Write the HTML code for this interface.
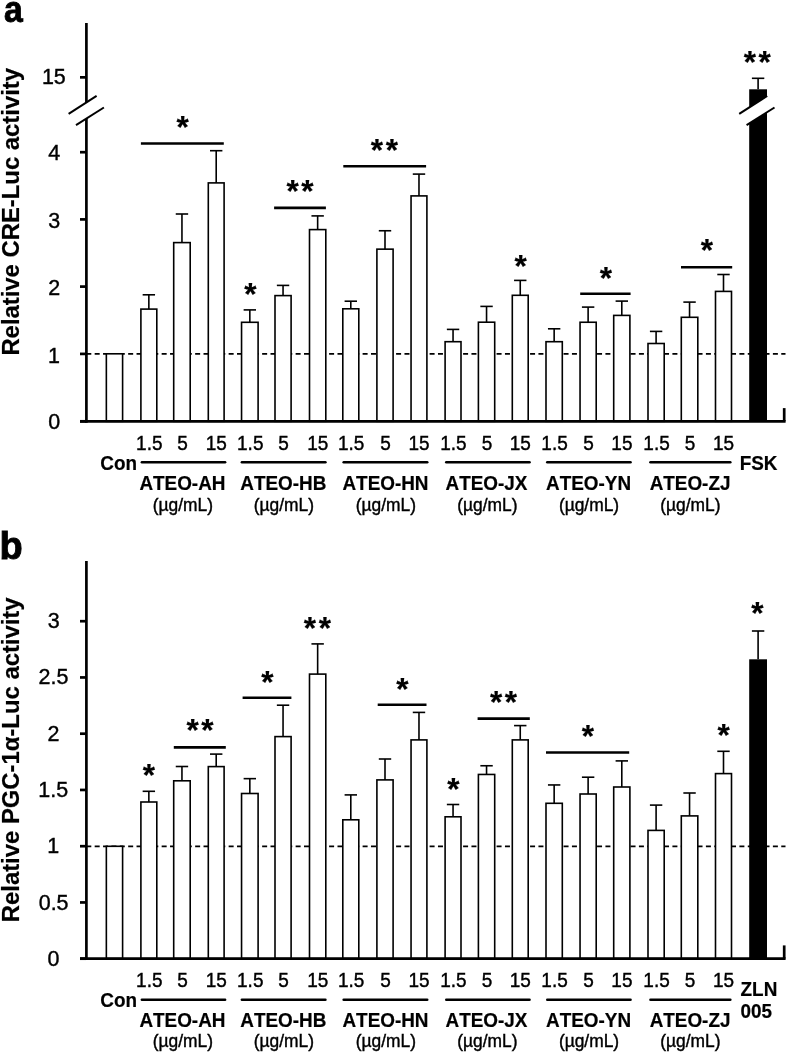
<!DOCTYPE html><html><head><meta charset="utf-8"><style>html,body{margin:0;padding:0;background:#fff;overflow:hidden}svg{display:block;will-change:transform;font-kerning:none}</style></head><body>
<svg width="787" height="1052" viewBox="0 0 787 1052" font-family='"Liberation Sans", sans-serif'>
<style>.r{stroke:#000;stroke-width:0.4}.b{stroke:#000;stroke-width:0.2}</style>
<rect x="0" y="0" width="787" height="1052" fill="#fff"/>
<g stroke="#000" fill="#000">
<line x1="86.3" y1="353.8" x2="785.5" y2="353.8" stroke-width="1.8" stroke-dasharray="5 3.373"/>
<rect x="106.35" y="353.8" width="16.25" height="67.5" fill="#fff" stroke-width="1.6"/>
<rect x="140.9" y="309.1" width="15.9" height="112.2" fill="#fff" stroke-width="1.6"/>
<line x1="148.85" y1="294.8" x2="148.85" y2="309.1" stroke-width="1.6" />
<line x1="142.65" y1="294.8" x2="155.05" y2="294.8" stroke-width="1.6" />
<rect x="173.7" y="242.6" width="16.5" height="178.7" fill="#fff" stroke-width="1.6"/>
<line x1="181.95" y1="214" x2="181.95" y2="242.6" stroke-width="1.6" />
<line x1="175.75" y1="214" x2="188.15" y2="214" stroke-width="1.6" />
<rect x="208.3" y="182.9" width="15.8" height="238.4" fill="#fff" stroke-width="1.6"/>
<line x1="216.2" y1="150.7" x2="216.2" y2="182.9" stroke-width="1.6" />
<line x1="210" y1="150.7" x2="222.4" y2="150.7" stroke-width="1.6" />
<rect x="241.55" y="322.3" width="16.55" height="99" fill="#fff" stroke-width="1.6"/>
<line x1="249.83" y1="309.9" x2="249.83" y2="322.3" stroke-width="1.6" />
<line x1="243.63" y1="309.9" x2="256.03" y2="309.9" stroke-width="1.6" />
<rect x="275" y="295.6" width="16.1" height="125.7" fill="#fff" stroke-width="1.6"/>
<line x1="283.05" y1="285.4" x2="283.05" y2="295.6" stroke-width="1.6" />
<line x1="276.85" y1="285.4" x2="289.25" y2="285.4" stroke-width="1.6" />
<rect x="309.5" y="229.6" width="16.3" height="191.7" fill="#fff" stroke-width="1.6"/>
<line x1="317.65" y1="215.9" x2="317.65" y2="229.6" stroke-width="1.6" />
<line x1="311.45" y1="215.9" x2="323.85" y2="215.9" stroke-width="1.6" />
<rect x="342.8" y="308.8" width="16" height="112.5" fill="#fff" stroke-width="1.6"/>
<line x1="350.8" y1="301.2" x2="350.8" y2="308.8" stroke-width="1.6" />
<line x1="344.6" y1="301.2" x2="357" y2="301.2" stroke-width="1.6" />
<rect x="376.9" y="249.15" width="16.2" height="172.15" fill="#fff" stroke-width="1.6"/>
<line x1="385" y1="230.75" x2="385" y2="249.15" stroke-width="1.6" />
<line x1="378.8" y1="230.75" x2="391.2" y2="230.75" stroke-width="1.6" />
<rect x="411.05" y="195.9" width="15.85" height="225.4" fill="#fff" stroke-width="1.6"/>
<line x1="418.98" y1="174.1" x2="418.98" y2="195.9" stroke-width="1.6" />
<line x1="412.78" y1="174.1" x2="425.18" y2="174.1" stroke-width="1.6" />
<rect x="445.1" y="341.7" width="15.9" height="79.6" fill="#fff" stroke-width="1.6"/>
<line x1="453.05" y1="329.4" x2="453.05" y2="341.7" stroke-width="1.6" />
<line x1="446.85" y1="329.4" x2="459.25" y2="329.4" stroke-width="1.6" />
<rect x="478.4" y="322.2" width="16.3" height="99.1" fill="#fff" stroke-width="1.6"/>
<line x1="486.55" y1="306.4" x2="486.55" y2="322.2" stroke-width="1.6" />
<line x1="480.35" y1="306.4" x2="492.75" y2="306.4" stroke-width="1.6" />
<rect x="512.3" y="295.3" width="15.9" height="126" fill="#fff" stroke-width="1.6"/>
<line x1="520.25" y1="280.4" x2="520.25" y2="295.3" stroke-width="1.6" />
<line x1="514.05" y1="280.4" x2="526.45" y2="280.4" stroke-width="1.6" />
<rect x="546" y="341.7" width="16.3" height="79.6" fill="#fff" stroke-width="1.6"/>
<line x1="554.15" y1="328.8" x2="554.15" y2="341.7" stroke-width="1.6" />
<line x1="547.95" y1="328.8" x2="560.35" y2="328.8" stroke-width="1.6" />
<rect x="580.05" y="322.25" width="16.15" height="99.05" fill="#fff" stroke-width="1.6"/>
<line x1="588.12" y1="307.1" x2="588.12" y2="322.25" stroke-width="1.6" />
<line x1="581.92" y1="307.1" x2="594.33" y2="307.1" stroke-width="1.6" />
<rect x="613.7" y="315.4" width="16.2" height="105.9" fill="#fff" stroke-width="1.6"/>
<line x1="621.8" y1="301.1" x2="621.8" y2="315.4" stroke-width="1.6" />
<line x1="615.6" y1="301.1" x2="628" y2="301.1" stroke-width="1.6" />
<rect x="648" y="343.5" width="16.2" height="77.8" fill="#fff" stroke-width="1.6"/>
<line x1="656.1" y1="331.4" x2="656.1" y2="343.5" stroke-width="1.6" />
<line x1="649.9" y1="331.4" x2="662.3" y2="331.4" stroke-width="1.6" />
<rect x="681.3" y="317.3" width="16.5" height="104" fill="#fff" stroke-width="1.6"/>
<line x1="689.55" y1="302.1" x2="689.55" y2="317.3" stroke-width="1.6" />
<line x1="683.35" y1="302.1" x2="695.75" y2="302.1" stroke-width="1.6" />
<rect x="715.5" y="291.4" width="16" height="129.9" fill="#fff" stroke-width="1.6"/>
<line x1="723.5" y1="274.5" x2="723.5" y2="291.4" stroke-width="1.6" />
<line x1="717.3" y1="274.5" x2="729.7" y2="274.5" stroke-width="1.6" />
<rect x="749.2" y="89.3" width="17.8" height="332" stroke="none"/>
<line x1="758.1" y1="78.3" x2="758.1" y2="89.3" stroke-width="1.6" />
<line x1="751.9" y1="78.3" x2="764.3" y2="78.3" stroke-width="1.6" />
<line x1="140.9" y1="143.5" x2="223.8" y2="143.5" stroke-width="2.6" />
<line x1="274.1" y1="207.9" x2="325.9" y2="207.9" stroke-width="2.6" />
<line x1="343.3" y1="166.3" x2="426.1" y2="166.3" stroke-width="2.6" />
<line x1="580.2" y1="293.8" x2="630.6" y2="293.8" stroke-width="2.6" />
<line x1="681" y1="267.3" x2="732.2" y2="267.3" stroke-width="2.6" />
<text stroke="none" class="b" x="176.44" y="137.86" font-size="31.5" font-weight="bold">*</text>
<text stroke="none" class="b" x="286.51" y="202.41" font-size="31.5" font-weight="bold" letter-spacing="2.6">**</text>
<text stroke="none" class="b" x="244.14" y="305.01" font-size="31.5" font-weight="bold">*</text>
<text stroke="none" class="b" x="370.81" y="161.21" font-size="31.5" font-weight="bold" letter-spacing="2.6">**</text>
<text stroke="none" class="b" x="514.59" y="276.61" font-size="31.5" font-weight="bold">*</text>
<text stroke="none" class="b" x="599.64" y="288.66" font-size="31.5" font-weight="bold">*</text>
<text stroke="none" class="b" x="700.69" y="261.41" font-size="31.5" font-weight="bold">*</text>
<text stroke="none" class="b" x="743.76" y="72.96" font-size="31.5" font-weight="bold" letter-spacing="2.6">**</text>
<line x1="86.4" y1="23" x2="86.4" y2="422.65" stroke-width="2.7" />
<line x1="80" y1="421.3" x2="785.6" y2="421.3" stroke-width="2.7" />
<line x1="784.2" y1="421.3" x2="784.2" y2="408.1" stroke-width="2.7" />
<line x1="80" y1="421.3" x2="86.4" y2="421.3" stroke-width="2.7" />
<text stroke="none" class="r" transform="translate(48.22,428.96) scale(1.0,1.035)" font-size="21.5" font-weight="normal">0</text>
<line x1="80" y1="353.9" x2="86.4" y2="353.9" stroke-width="2.7" />
<text stroke="none" class="r" transform="translate(47.93,362.55) scale(1.0,1.035)" font-size="21.5" font-weight="normal">1</text>
<line x1="80" y1="286.6" x2="86.4" y2="286.6" stroke-width="2.7" />
<text stroke="none" class="r" transform="translate(48.22,295.07) scale(1.0,1.035)" font-size="21.5" font-weight="normal">2</text>
<line x1="80" y1="219.4" x2="86.4" y2="219.4" stroke-width="2.7" />
<text stroke="none" class="r" transform="translate(48.28,227.66) scale(1.0,1.035)" font-size="21.5" font-weight="normal">3</text>
<line x1="80" y1="152.2" x2="86.4" y2="152.2" stroke-width="2.7" />
<text stroke="none" class="r" transform="translate(48.29,160.35) scale(1.0,1.035)" font-size="21.5" font-weight="normal">4</text>
<line x1="80" y1="77.35" x2="86.4" y2="77.35" stroke-width="2.7" />
<text stroke="none" class="r" transform="translate(41.88,83.85) scale(1.0,1.035)" font-size="21.5" font-weight="normal">15</text>
<text stroke="none" transform="translate(19,355.6) rotate(-90) scale(1,1.04)" class="b" font-size="23.85" font-weight="bold">Relative CRE-Luc activity</text>
<text stroke="none" class="r" transform="translate(136.07,449.53) scale(1.0,1.045)" font-size="19.0" font-weight="normal">1.5</text>
<text stroke="none" class="r" transform="translate(177.14,449.53) scale(1.0,1.045)" font-size="19.0" font-weight="normal">5</text>
<text stroke="none" class="r" transform="translate(205.76,449.53) scale(1.0,1.045)" font-size="19.0" font-weight="normal">15</text>
<text stroke="none" class="r" transform="translate(237.04,449.53) scale(1.0,1.045)" font-size="19.0" font-weight="normal">1.5</text>
<text stroke="none" class="r" transform="translate(278.24,449.53) scale(1.0,1.045)" font-size="19.0" font-weight="normal">5</text>
<text stroke="none" class="r" transform="translate(307.21,449.53) scale(1.0,1.045)" font-size="19.0" font-weight="normal">15</text>
<text stroke="none" class="r" transform="translate(338.02,449.53) scale(1.0,1.045)" font-size="19.0" font-weight="normal">1.5</text>
<text stroke="none" class="r" transform="translate(380.19,449.53) scale(1.0,1.045)" font-size="19.0" font-weight="normal">5</text>
<text stroke="none" class="r" transform="translate(408.53,449.53) scale(1.0,1.045)" font-size="19.0" font-weight="normal">15</text>
<text stroke="none" class="r" transform="translate(440.27,449.53) scale(1.0,1.045)" font-size="19.0" font-weight="normal">1.5</text>
<text stroke="none" class="r" transform="translate(481.74,449.53) scale(1.0,1.045)" font-size="19.0" font-weight="normal">5</text>
<text stroke="none" class="r" transform="translate(509.81,449.53) scale(1.0,1.045)" font-size="19.0" font-weight="normal">15</text>
<text stroke="none" class="r" transform="translate(541.37,449.53) scale(1.0,1.045)" font-size="19.0" font-weight="normal">1.5</text>
<text stroke="none" class="r" transform="translate(583.31,449.53) scale(1.0,1.045)" font-size="19.0" font-weight="normal">5</text>
<text stroke="none" class="r" transform="translate(611.36,449.53) scale(1.0,1.045)" font-size="19.0" font-weight="normal">15</text>
<text stroke="none" class="r" transform="translate(643.32,449.53) scale(1.0,1.045)" font-size="19.0" font-weight="normal">1.5</text>
<text stroke="none" class="r" transform="translate(684.74,449.53) scale(1.0,1.045)" font-size="19.0" font-weight="normal">5</text>
<text stroke="none" class="r" transform="translate(713.06,449.53) scale(1.0,1.045)" font-size="19.0" font-weight="normal">15</text>
<line x1="141.9" y1="462.2" x2="225.1" y2="462.2" stroke-width="2.6" stroke-linecap="round"/>
<text stroke="none" class="b" transform="translate(139.41,490.33) scale(1.0,1.05)" font-size="18.9" font-weight="bold">ATEO-AH</text>
<text stroke="none" class="r" transform="translate(152.7,511.23) scale(1.0,1.03)" font-size="17.4" font-weight="normal">(µg/mL)</text>
<line x1="241.9" y1="462.2" x2="325.4" y2="462.2" stroke-width="2.6" stroke-linecap="round"/>
<text stroke="none" class="b" transform="translate(240.3,490.33) scale(1.0,1.05)" font-size="18.9" font-weight="bold">ATEO-HB</text>
<text stroke="none" class="r" transform="translate(253.8,511.23) scale(1.0,1.03)" font-size="17.4" font-weight="normal">(µg/mL)</text>
<line x1="343.7" y1="462.2" x2="427.2" y2="462.2" stroke-width="2.6" stroke-linecap="round"/>
<text stroke="none" class="b" transform="translate(342.46,490.33) scale(1.0,1.05)" font-size="18.9" font-weight="bold">ATEO-HN</text>
<text stroke="none" class="r" transform="translate(355.75,511.23) scale(1.0,1.03)" font-size="17.4" font-weight="normal">(µg/mL)</text>
<line x1="446.3" y1="462.2" x2="529.5" y2="462.2" stroke-width="2.6" stroke-linecap="round"/>
<text stroke="none" class="b" transform="translate(445.54,490.33) scale(1.0,1.05)" font-size="18.9" font-weight="bold">ATEO-JX</text>
<text stroke="none" class="r" transform="translate(457.3,511.23) scale(1.0,1.03)" font-size="17.4" font-weight="normal">(µg/mL)</text>
<line x1="547.3" y1="462.2" x2="630.5" y2="462.2" stroke-width="2.6" stroke-linecap="round"/>
<text stroke="none" class="b" transform="translate(546.1,490.33) scale(1.0,1.05)" font-size="18.9" font-weight="bold">ATEO-YN</text>
<text stroke="none" class="r" transform="translate(558.88,511.23) scale(1.0,1.03)" font-size="17.4" font-weight="normal">(µg/mL)</text>
<line x1="650.5" y1="462.2" x2="730.3" y2="462.2" stroke-width="2.6" stroke-linecap="round"/>
<text stroke="none" class="b" transform="translate(649.64,490.33) scale(1.0,1.05)" font-size="18.9" font-weight="bold">ATEO-ZJ</text>
<text stroke="none" class="r" transform="translate(660.3,511.23) scale(1.0,1.03)" font-size="17.4" font-weight="normal">(µg/mL)</text>
<text stroke="none" class="b" transform="translate(100.28,469.73) scale(1.0,1.05)" font-size="18.9" font-weight="bold">Con</text>
<line x1="86.3" y1="846.4" x2="785.5" y2="846.4" stroke-width="1.8" stroke-dasharray="5 3.373"/>
<rect x="106.35" y="846.3" width="16.25" height="112.3" fill="#fff" stroke-width="1.6"/>
<rect x="140.9" y="802" width="15.9" height="156.6" fill="#fff" stroke-width="1.6"/>
<line x1="148.85" y1="791.3" x2="148.85" y2="802" stroke-width="1.6" />
<line x1="142.65" y1="791.3" x2="155.05" y2="791.3" stroke-width="1.6" />
<rect x="173.7" y="780.8" width="16.5" height="177.8" fill="#fff" stroke-width="1.6"/>
<line x1="181.95" y1="766.5" x2="181.95" y2="780.8" stroke-width="1.6" />
<line x1="175.75" y1="766.5" x2="188.15" y2="766.5" stroke-width="1.6" />
<rect x="208.3" y="766.6" width="15.8" height="192" fill="#fff" stroke-width="1.6"/>
<line x1="216.2" y1="754.1" x2="216.2" y2="766.6" stroke-width="1.6" />
<line x1="210" y1="754.1" x2="222.4" y2="754.1" stroke-width="1.6" />
<rect x="241.55" y="793.5" width="16.55" height="165.1" fill="#fff" stroke-width="1.6"/>
<line x1="249.83" y1="778.65" x2="249.83" y2="793.5" stroke-width="1.6" />
<line x1="243.63" y1="778.65" x2="256.03" y2="778.65" stroke-width="1.6" />
<rect x="275" y="736.6" width="16.1" height="222" fill="#fff" stroke-width="1.6"/>
<line x1="283.05" y1="705.2" x2="283.05" y2="736.6" stroke-width="1.6" />
<line x1="276.85" y1="705.2" x2="289.25" y2="705.2" stroke-width="1.6" />
<rect x="309.5" y="674.1" width="16.3" height="284.5" fill="#fff" stroke-width="1.6"/>
<line x1="317.65" y1="643.9" x2="317.65" y2="674.1" stroke-width="1.6" />
<line x1="311.45" y1="643.9" x2="323.85" y2="643.9" stroke-width="1.6" />
<rect x="342.8" y="819.8" width="16" height="138.8" fill="#fff" stroke-width="1.6"/>
<line x1="350.8" y1="794.9" x2="350.8" y2="819.8" stroke-width="1.6" />
<line x1="344.6" y1="794.9" x2="357" y2="794.9" stroke-width="1.6" />
<rect x="376.9" y="779.9" width="16.2" height="178.7" fill="#fff" stroke-width="1.6"/>
<line x1="385" y1="759" x2="385" y2="779.9" stroke-width="1.6" />
<line x1="378.8" y1="759" x2="391.2" y2="759" stroke-width="1.6" />
<rect x="411.05" y="739.9" width="15.85" height="218.7" fill="#fff" stroke-width="1.6"/>
<line x1="418.98" y1="712.4" x2="418.98" y2="739.9" stroke-width="1.6" />
<line x1="412.78" y1="712.4" x2="425.18" y2="712.4" stroke-width="1.6" />
<rect x="445.1" y="816.8" width="15.9" height="141.8" fill="#fff" stroke-width="1.6"/>
<line x1="453.05" y1="804.5" x2="453.05" y2="816.8" stroke-width="1.6" />
<line x1="446.85" y1="804.5" x2="459.25" y2="804.5" stroke-width="1.6" />
<rect x="478.4" y="774.45" width="16.3" height="184.15" fill="#fff" stroke-width="1.6"/>
<line x1="486.55" y1="765.75" x2="486.55" y2="774.45" stroke-width="1.6" />
<line x1="480.35" y1="765.75" x2="492.75" y2="765.75" stroke-width="1.6" />
<rect x="512.3" y="739.9" width="15.9" height="218.7" fill="#fff" stroke-width="1.6"/>
<line x1="520.25" y1="725.6" x2="520.25" y2="739.9" stroke-width="1.6" />
<line x1="514.05" y1="725.6" x2="526.45" y2="725.6" stroke-width="1.6" />
<rect x="546" y="803.3" width="16.3" height="155.3" fill="#fff" stroke-width="1.6"/>
<line x1="554.15" y1="784.95" x2="554.15" y2="803.3" stroke-width="1.6" />
<line x1="547.95" y1="784.95" x2="560.35" y2="784.95" stroke-width="1.6" />
<rect x="580.05" y="794" width="16.15" height="164.6" fill="#fff" stroke-width="1.6"/>
<line x1="588.12" y1="777.2" x2="588.12" y2="794" stroke-width="1.6" />
<line x1="581.92" y1="777.2" x2="594.33" y2="777.2" stroke-width="1.6" />
<rect x="613.7" y="787" width="16.2" height="171.6" fill="#fff" stroke-width="1.6"/>
<line x1="621.8" y1="760.9" x2="621.8" y2="787" stroke-width="1.6" />
<line x1="615.6" y1="760.9" x2="628" y2="760.9" stroke-width="1.6" />
<rect x="648" y="830.4" width="16.2" height="128.2" fill="#fff" stroke-width="1.6"/>
<line x1="656.1" y1="805.1" x2="656.1" y2="830.4" stroke-width="1.6" />
<line x1="649.9" y1="805.1" x2="662.3" y2="805.1" stroke-width="1.6" />
<rect x="681.3" y="815.9" width="16.5" height="142.7" fill="#fff" stroke-width="1.6"/>
<line x1="689.55" y1="793" x2="689.55" y2="815.9" stroke-width="1.6" />
<line x1="683.35" y1="793" x2="695.75" y2="793" stroke-width="1.6" />
<rect x="715.5" y="773.6" width="16" height="185" fill="#fff" stroke-width="1.6"/>
<line x1="723.5" y1="751.3" x2="723.5" y2="773.6" stroke-width="1.6" />
<line x1="717.3" y1="751.3" x2="729.7" y2="751.3" stroke-width="1.6" />
<rect x="749.2" y="659.3" width="17.8" height="299.3" stroke="none"/>
<line x1="758.1" y1="631" x2="758.1" y2="659.3" stroke-width="1.6" />
<line x1="751.9" y1="631" x2="764.3" y2="631" stroke-width="1.6" />
<line x1="173.8" y1="747.4" x2="225.8" y2="747.4" stroke-width="2.6" />
<line x1="242.6" y1="697.8" x2="291.4" y2="697.8" stroke-width="2.6" />
<line x1="377.7" y1="704.8" x2="426.5" y2="704.8" stroke-width="2.6" />
<line x1="477.6" y1="718.6" x2="529.8" y2="718.6" stroke-width="2.6" />
<line x1="546" y1="752.5" x2="629.2" y2="752.5" stroke-width="2.6" />
<text stroke="none" class="b" x="142.84" y="786.41" font-size="31.5" font-weight="bold">*</text>
<text stroke="none" class="b" x="186.51" y="741.46" font-size="31.5" font-weight="bold" letter-spacing="2.6">**</text>
<text stroke="none" class="b" x="261.24" y="692.51" font-size="31.5" font-weight="bold">*</text>
<text stroke="none" class="b" x="303.81" y="638.91" font-size="31.5" font-weight="bold" letter-spacing="2.6">**</text>
<text stroke="none" class="b" x="396.14" y="699.61" font-size="31.5" font-weight="bold">*</text>
<text stroke="none" class="b" x="447.14" y="799.91" font-size="31.5" font-weight="bold">*</text>
<text stroke="none" class="b" x="489.91" y="713.21" font-size="31.5" font-weight="bold" letter-spacing="2.6">**</text>
<text stroke="none" class="b" x="581.84" y="747.11" font-size="31.5" font-weight="bold">*</text>
<text stroke="none" class="b" x="717.59" y="746.01" font-size="31.5" font-weight="bold">*</text>
<text stroke="none" class="b" x="751.14" y="624.21" font-size="31.5" font-weight="bold">*</text>
<line x1="86.4" y1="561" x2="86.4" y2="959.95" stroke-width="2.7" />
<line x1="80" y1="958.6" x2="785.6" y2="958.6" stroke-width="2.7" />
<line x1="784.2" y1="958.6" x2="784.2" y2="945.4" stroke-width="2.7" />
<line x1="80" y1="958.7" x2="86.4" y2="958.7" stroke-width="2.7" />
<text stroke="none" class="r" transform="translate(47.62,966.16) scale(1.0,1.035)" font-size="21.5" font-weight="normal">0</text>
<line x1="80" y1="902.45" x2="86.4" y2="902.45" stroke-width="2.7" />
<text stroke="none" class="r" transform="translate(38.69,909.91) scale(1.0,1.035)" font-size="21.5" font-weight="normal">0.5</text>
<line x1="80" y1="846.2" x2="86.4" y2="846.2" stroke-width="2.7" />
<text stroke="none" class="r" transform="translate(47.33,852.85) scale(1.0,1.035)" font-size="21.5" font-weight="normal">1</text>
<line x1="80" y1="789.95" x2="86.4" y2="789.95" stroke-width="2.7" />
<text stroke="none" class="r" transform="translate(38.29,796.85) scale(1.0,1.035)" font-size="21.5" font-weight="normal">1.5</text>
<line x1="80" y1="733.7" x2="86.4" y2="733.7" stroke-width="2.7" />
<text stroke="none" class="r" transform="translate(47.62,740.77) scale(1.0,1.035)" font-size="21.5" font-weight="normal">2</text>
<line x1="80" y1="677.45" x2="86.4" y2="677.45" stroke-width="2.7" />
<text stroke="none" class="r" transform="translate(38.57,683.66) scale(1.0,1.035)" font-size="21.5" font-weight="normal">2.5</text>
<line x1="80" y1="621.2" x2="86.4" y2="621.2" stroke-width="2.7" />
<text stroke="none" class="r" transform="translate(47.68,628.36) scale(1.0,1.035)" font-size="21.5" font-weight="normal">3</text>
<text stroke="none" transform="translate(19,922.2) rotate(-90) scale(1,1.04)" class="b" font-size="23.85" font-weight="bold">Relative PGC-1α-Luc activity</text>
<text stroke="none" class="r" transform="translate(136.07,987.13) scale(1.0,1.045)" font-size="19.0" font-weight="normal">1.5</text>
<text stroke="none" class="r" transform="translate(177.14,987.13) scale(1.0,1.045)" font-size="19.0" font-weight="normal">5</text>
<text stroke="none" class="r" transform="translate(205.76,987.13) scale(1.0,1.045)" font-size="19.0" font-weight="normal">15</text>
<text stroke="none" class="r" transform="translate(237.04,987.13) scale(1.0,1.045)" font-size="19.0" font-weight="normal">1.5</text>
<text stroke="none" class="r" transform="translate(278.24,987.13) scale(1.0,1.045)" font-size="19.0" font-weight="normal">5</text>
<text stroke="none" class="r" transform="translate(307.21,987.13) scale(1.0,1.045)" font-size="19.0" font-weight="normal">15</text>
<text stroke="none" class="r" transform="translate(338.02,987.13) scale(1.0,1.045)" font-size="19.0" font-weight="normal">1.5</text>
<text stroke="none" class="r" transform="translate(380.19,987.13) scale(1.0,1.045)" font-size="19.0" font-weight="normal">5</text>
<text stroke="none" class="r" transform="translate(408.53,987.13) scale(1.0,1.045)" font-size="19.0" font-weight="normal">15</text>
<text stroke="none" class="r" transform="translate(440.27,987.13) scale(1.0,1.045)" font-size="19.0" font-weight="normal">1.5</text>
<text stroke="none" class="r" transform="translate(481.74,987.13) scale(1.0,1.045)" font-size="19.0" font-weight="normal">5</text>
<text stroke="none" class="r" transform="translate(509.81,987.13) scale(1.0,1.045)" font-size="19.0" font-weight="normal">15</text>
<text stroke="none" class="r" transform="translate(541.37,987.13) scale(1.0,1.045)" font-size="19.0" font-weight="normal">1.5</text>
<text stroke="none" class="r" transform="translate(583.31,987.13) scale(1.0,1.045)" font-size="19.0" font-weight="normal">5</text>
<text stroke="none" class="r" transform="translate(611.36,987.13) scale(1.0,1.045)" font-size="19.0" font-weight="normal">15</text>
<text stroke="none" class="r" transform="translate(643.32,987.13) scale(1.0,1.045)" font-size="19.0" font-weight="normal">1.5</text>
<text stroke="none" class="r" transform="translate(684.74,987.13) scale(1.0,1.045)" font-size="19.0" font-weight="normal">5</text>
<text stroke="none" class="r" transform="translate(713.06,987.13) scale(1.0,1.045)" font-size="19.0" font-weight="normal">15</text>
<line x1="141.9" y1="999.7" x2="225.1" y2="999.7" stroke-width="2.6" stroke-linecap="round"/>
<text stroke="none" class="b" transform="translate(139.41,1026.63) scale(1.0,1.05)" font-size="18.9" font-weight="bold">ATEO-AH</text>
<text stroke="none" class="r" transform="translate(152.7,1047.43) scale(1.0,1.03)" font-size="17.4" font-weight="normal">(µg/mL)</text>
<line x1="241.9" y1="999.7" x2="325.4" y2="999.7" stroke-width="2.6" stroke-linecap="round"/>
<text stroke="none" class="b" transform="translate(240.3,1026.63) scale(1.0,1.05)" font-size="18.9" font-weight="bold">ATEO-HB</text>
<text stroke="none" class="r" transform="translate(253.8,1047.43) scale(1.0,1.03)" font-size="17.4" font-weight="normal">(µg/mL)</text>
<line x1="343.7" y1="999.7" x2="427.2" y2="999.7" stroke-width="2.6" stroke-linecap="round"/>
<text stroke="none" class="b" transform="translate(342.46,1026.63) scale(1.0,1.05)" font-size="18.9" font-weight="bold">ATEO-HN</text>
<text stroke="none" class="r" transform="translate(355.75,1047.43) scale(1.0,1.03)" font-size="17.4" font-weight="normal">(µg/mL)</text>
<line x1="446.3" y1="999.7" x2="529.5" y2="999.7" stroke-width="2.6" stroke-linecap="round"/>
<text stroke="none" class="b" transform="translate(445.54,1026.63) scale(1.0,1.05)" font-size="18.9" font-weight="bold">ATEO-JX</text>
<text stroke="none" class="r" transform="translate(457.3,1047.43) scale(1.0,1.03)" font-size="17.4" font-weight="normal">(µg/mL)</text>
<line x1="547.3" y1="999.7" x2="630.5" y2="999.7" stroke-width="2.6" stroke-linecap="round"/>
<text stroke="none" class="b" transform="translate(546.1,1026.63) scale(1.0,1.05)" font-size="18.9" font-weight="bold">ATEO-YN</text>
<text stroke="none" class="r" transform="translate(558.88,1047.43) scale(1.0,1.03)" font-size="17.4" font-weight="normal">(µg/mL)</text>
<line x1="650.5" y1="999.7" x2="730.3" y2="999.7" stroke-width="2.6" stroke-linecap="round"/>
<text stroke="none" class="b" transform="translate(649.64,1026.63) scale(1.0,1.05)" font-size="18.9" font-weight="bold">ATEO-ZJ</text>
<text stroke="none" class="r" transform="translate(660.3,1047.43) scale(1.0,1.03)" font-size="17.4" font-weight="normal">(µg/mL)</text>
<text stroke="none" class="b" transform="translate(100.28,1007.33) scale(1.0,1.05)" font-size="18.9" font-weight="bold">Con</text>
</g>
<g stroke="#000" fill="#000">
<polygon points="68.6,113.9 96.6,95.9 103.9,107.5 76,125.2" fill="#fff" stroke="none"/>
<line x1="68.6" y1="113.9" x2="96.6" y2="95.9" stroke-width="2.0" />
<line x1="76" y1="125.2" x2="103.9" y2="107.5" stroke-width="2.0" />
<polygon points="739.2,113.9 767.2,95.9 774.5,107.5 746.6,125.2" fill="#fff" stroke="none"/>
<line x1="739.2" y1="113.9" x2="767.2" y2="95.9" stroke-width="2.0" />
<line x1="746.6" y1="125.2" x2="774.5" y2="107.5" stroke-width="2.0" />
<text stroke="none" class="b" transform="translate(739.66,469.98) scale(1.0,1.05)" font-size="18.9" font-weight="bold">FSK</text>
<text stroke="none" class="b" transform="translate(740.59,995.53) scale(1.0,1.05)" font-size="18.9" font-weight="bold">ZLN</text>
<text stroke="none" class="b" transform="translate(740.57,1018.13) scale(1.0,1.05)" font-size="18.9" font-weight="bold">005</text>
<text stroke="none" transform="translate(3.9,21.5) scale(0.9,1)" font-size="37.5" font-weight="bold" style="stroke:#000;stroke-width:0.9px">a</text>
<text stroke="none" x="-0.4" y="559.2" font-size="38" font-weight="bold" style="stroke:#000;stroke-width:0.9px">b</text>
</g>
</svg></body></html>
